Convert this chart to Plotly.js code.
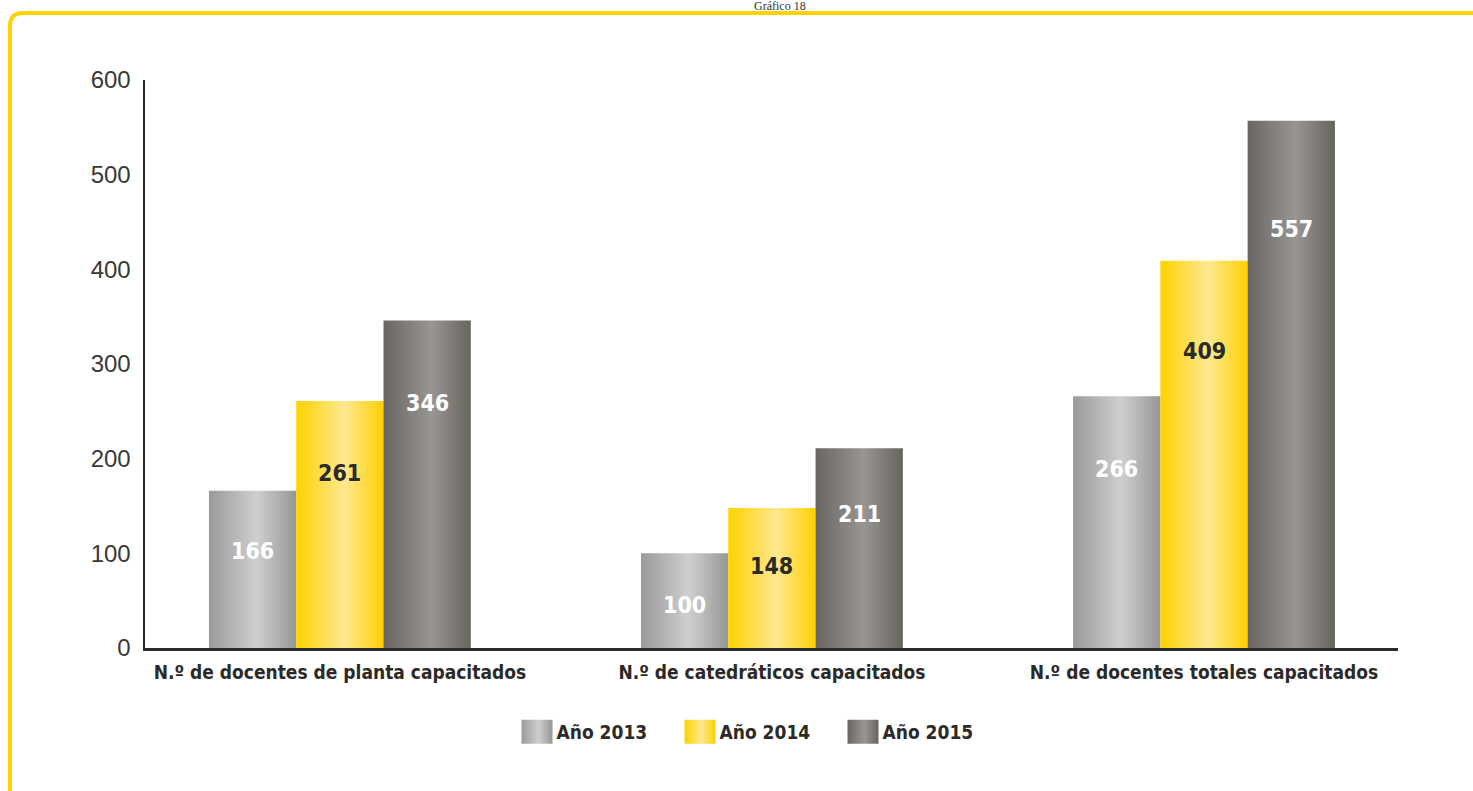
<!DOCTYPE html>
<html>
<head>
<meta charset="utf-8">
<script src="https://cdn.plot.ly/plotly-3.0.1.min.js"></script>
<style>html,body{margin:0;padding:0;background:#fff;}#chart{width:1473px;height:791px;}</style>
</head>
<body>
<div id="chart"></div>
<script>
const categories = ['N.º de docentes de planta capacitados', 'N.º de catedráticos capacitados', 'N.º de docentes totales capacitados'];
const seriesNames = ['Año 2013', 'Año 2014', 'Año 2015'];
const v2013 = [166, 100, 266];
const v2014 = [261, 148, 409];
const v2015 = [346, 211, 557];
const yTicks = [0, 100, 200, 300, 400, 500, 600];

const series = [v2013, v2014, v2015];
const baseColors = ['#b4b3b3', '#ffd200', '#858280'];
const labelColors = ['#ffffff', '#2b2a29', '#ffffff'];
const gradStops = [
  [['0', '#9b9a9a'], ['0.55', '#d0cfcf'], ['1', '#979696']],
  [['0', '#ffd200'], ['0.55', '#fde890'], ['1', '#ffd000']],
  [['0', '#696562'], ['0.55', '#989693'], ['1', '#67635f']]
];

const W = 1473, H = 791;
const L = 145, R = 75, T = 80, B = 143;
const pw = W - L - R, ph = H - T - B;
const px = x => (x - L) / pw;
const py = y => (H - B - y) / ph;

const bargap = 0.394;
const barW = (1 - bargap) / 3;
const boldFont = '"DejaVu Sans Condensed", "Liberation Sans Narrow", Arial, sans-serif';

const data = series.map((vals, j) => ({
  type: 'bar',
  name: seriesNames[j],
  x: categories.map((c, i) => i),
  y: vals,
  marker: {color: baseColors[j], line: {width: 0}},
  hoverinfo: 'none'
}));

const annotations = [];
series.forEach((vals, j) => {
  vals.forEach((v, i) => {
    annotations.push({
      x: i + (j - 1) * barW, y: 0.87 * v - 42, xref: 'x', yref: 'y',
      text: String(v), showarrow: false,
      font: {family: boldFont, size: 23, color: labelColors[j], weight: 'bold'},
      xanchor: 'center', yanchor: 'middle'
    });
  });
});
annotations.push({
  xref: 'paper', yref: 'paper', x: px(780), y: py(6),
  text: 'Gráfico 18', showarrow: false,
  font: {family: '"Liberation Serif", serif', size: 12, color: '#333'},
  xanchor: 'center', yanchor: 'middle'
});

const framePath = `M ${px(10)} ${py(800)} L ${px(10)} ${py(26)} Q ${px(10)} ${py(13)} ${px(23)} ${py(13)} L ${px(1490)} ${py(13)}`;

const layout = {
  width: W, height: H,
  margin: {l: L, r: R, t: T, b: B, pad: 0},
  paper_bgcolor: '#fff', plot_bgcolor: '#fff',
  barmode: 'group', bargap: bargap, bargroupgap: 0,
  showlegend: true,
  legend: {
    orientation: 'h', x: px(761), xanchor: 'center', y: py(732), yanchor: 'middle',
    font: {family: boldFont, size: 19, color: '#2b2a29', weight: 'bold'},
    entrywidth: 118, itemwidth: 30, traceorder: 'normal'
  },
  xaxis: {
    type: 'linear', range: [-0.451, 2.449],
    tickvals: [0, 1, 2], ticktext: categories,
    showgrid: false, zeroline: false, showline: true, linecolor: '#2b2a29', linewidth: 3,
    ticks: '', ticklabelstandoff: 5,
    tickfont: {family: boldFont, size: 19, color: '#2b2a29', weight: 'bold'}
  },
  yaxis: {
    range: [0, 600], tickvals: yTicks,
    showgrid: false, zeroline: false, showline: true, linecolor: '#2b2a29', linewidth: 2.5,
    ticks: '', ticklabelstandoff: 7,
    tickfont: {family: '"Liberation Sans", Arial, sans-serif', size: 24, color: '#3a3837'}
  },
  shapes: [{
    type: 'path', xref: 'paper', yref: 'paper', path: framePath,
    line: {color: '#ffd200', width: 4}, fillcolor: 'rgba(0,0,0,0)'
  }],
  annotations: annotations
};

Plotly.newPlot('chart', data, layout, {staticPlot: true, displayModeBar: false}).then(gd => {
  const ns = 'http://www.w3.org/2000/svg';
  const svg = gd.querySelector('svg.main-svg');
  let defs = svg.querySelector('defs');
  if (!defs) { defs = document.createElementNS(ns, 'defs'); svg.insertBefore(defs, svg.firstChild); }
  gradStops.forEach((stops, i) => {
    const lg = document.createElementNS(ns, 'linearGradient');
    lg.setAttribute('id', 'bargrad' + i);
    lg.setAttribute('x1', '0'); lg.setAttribute('y1', '0');
    lg.setAttribute('x2', '1'); lg.setAttribute('y2', '0');
    stops.forEach(([o, c]) => {
      const s = document.createElementNS(ns, 'stop');
      s.setAttribute('offset', o); s.setAttribute('stop-color', c);
      lg.appendChild(s);
    });
    defs.appendChild(lg);
  });
  gd.querySelectorAll('.barlayer .trace').forEach((tr, i) => {
    tr.querySelectorAll('path').forEach(p => { p.style.fill = `url(#bargrad${i})`; });
  });
  gd.querySelectorAll('.legend .traces').forEach((tr, i) => {
    const p = tr.querySelector('.legendpoints path');
    if (p) {
      p.setAttribute('d', 'M-15,-12H16V12H-15Z');
      p.style.fill = `url(#bargrad${i})`;
    }
  });
});
</script>
</body>
</html>
